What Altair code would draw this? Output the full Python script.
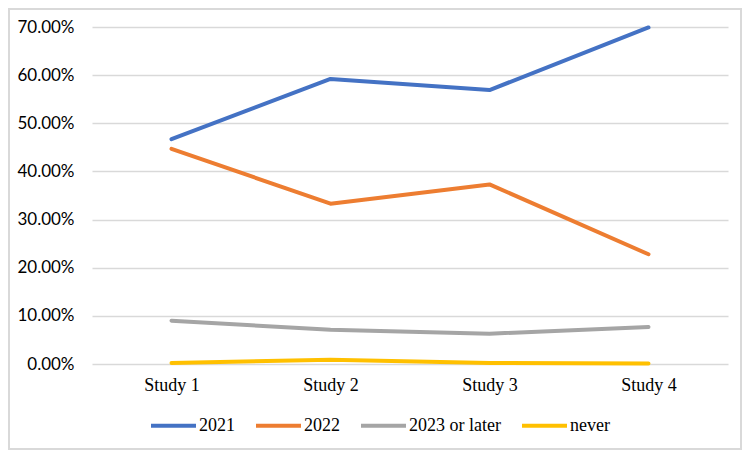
import altair as alt
import pandas as pd

studies = ["Study 1", "Study 2", "Study 3", "Study 4"]
series_names = ["2021", "2022", "2023 or later", "never"]
v2021 = [0.467, 0.592, 0.569, 0.699]
v2022 = [0.447, 0.333, 0.373, 0.228]
v2023 = [0.090, 0.071, 0.063, 0.077]
vnever = [0.002, 0.009, 0.002, 0.001]
colors = ["#4472C4", "#ED7D31", "#A5A5A5", "#FFC000"]
y_ticks = [0, 0.1, 0.2, 0.3, 0.4, 0.5, 0.6, 0.7]

rows = []
for name, vals in zip(series_names, [v2021, v2022, v2023, vnever]):
    for s, v in zip(studies, vals):
        rows.append({"study": s, "series": name, "value": v})
df = pd.DataFrame(rows)

frame = alt.Chart(pd.DataFrame({"a": [0]})).mark_rect(
    fillOpacity=0, stroke="#d9d9d9", strokeWidth=2
).encode(
    x=alt.value(-83), x2=alt.value(649), y=alt.value(-18), y2=alt.value(422)
)

lines = alt.Chart(df).mark_line(strokeWidth=4, strokeCap="round", strokeJoin="round").encode(
    x=alt.X("study:N", sort=studies, title=None,
            scale=alt.Scale(type="point", padding=0.5),
            axis=alt.Axis(labelAngle=0, domain=False, ticks=False, grid=False,
                          labelFont="Liberation Serif", labelFontSize=18,
                          labelColor="#000", labelPadding=12)),
    y=alt.Y("value:Q", title=None,
            scale=alt.Scale(domain=[0, 0.7], nice=False),
            axis=alt.Axis(values=y_ticks, format=".2%", domain=False, ticks=False,
                          gridColor="#d9d9d9", gridWidth=1.5,
                          labelFont="Lato", labelFontSize=17, labelColor="#000",
                          labelPadding=18)),
    color=alt.Color("series:N", title=None,
                    scale=alt.Scale(domain=series_names, range=colors),
                    legend=alt.Legend(orient="none", legendX=57, legendY=374,
                                      direction="horizontal", symbolType="stroke",
                                      symbolStrokeWidth=4, symbolSize=2025,
                                      labelFont="Liberation Serif", labelFontSize=18,
                                      labelColor="#000", labelOffset=1,
                                      columnPadding=13)),
)

chart = alt.layer(frame, lines).properties(
    width=636, height=337,
    autosize=alt.AutoSizeParams(type="none"),
    padding={"left": 84, "top": 19, "right": 15, "bottom": 87},
).configure_view(stroke=None)

chart.save("out.html", embed_options={"renderer": "svg", "actions": False})
